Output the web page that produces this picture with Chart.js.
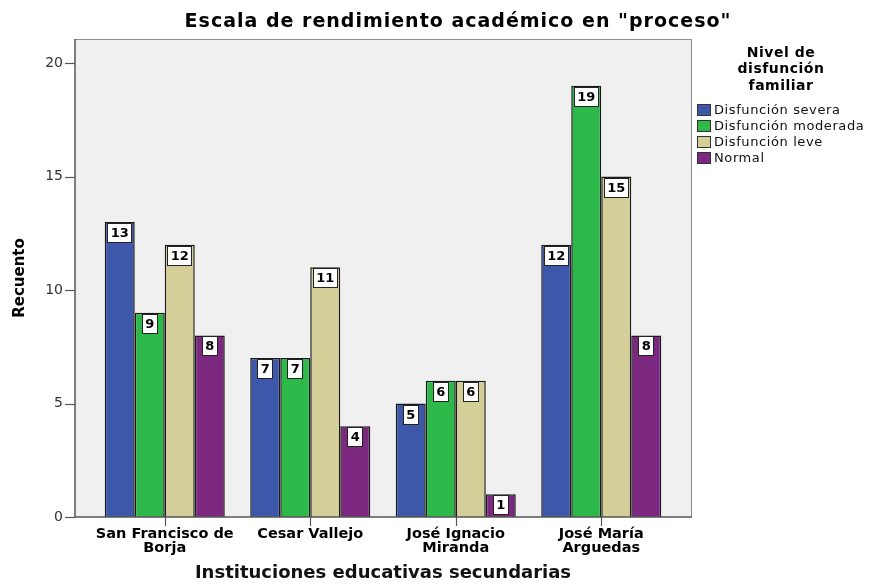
<!DOCTYPE html>
<html>
<head>
<meta charset="utf-8">
<script src="https://cdn.jsdelivr.net/npm/chart.js@4"></script>
<style>
  html, body { margin: 0; background: #fff; }
  canvas { display: block; }
</style>
</head>
<body>
<canvas id="chart" width="869" height="584"></canvas>
<script>
// datos
const categories = [['San Francisco de', 'Borja'], 'Cesar Vallejo', ['José Ignacio', 'Miranda'], ['José María', 'Arguedas']];
const severa   = [13, 7, 5, 12];
const moderada = [9, 7, 6, 19];
const leve     = [12, 11, 6, 15];
const normal   = [8, 4, 1, 8];
const seriesNames  = ['Disfunción severa', 'Disfunción moderada', 'Disfunción leve', 'Normal'];
const seriesColors = ['#3d57ab', '#2db84a', '#d4cf98', '#7c2880'];
const yTicks = [0, 5, 10, 15, 20];

const FONT = '"DejaVu Sans", sans-serif';
const FRAME_PAD = 17;

// fondo gris + marco del área de gráfico
const framePlugin = {
    id: 'frame',
    beforeDraw(chart) {
        const { ctx, chartArea: a } = chart;
        ctx.save();
        ctx.fillStyle = '#fff';
        ctx.fillRect(0, 0, chart.width, chart.height);
        ctx.fillStyle = '#f0f0f0';
        ctx.fillRect(a.left - FRAME_PAD, a.top, a.right - a.left + 2 * FRAME_PAD, a.bottom - a.top);
        ctx.restore();
    },
    afterDatasetsDraw(chart) {
        const { ctx, chartArea: a, scales } = chart;
        const L = a.left - FRAME_PAD, R = a.right + FRAME_PAD;
        ctx.save();
        ctx.lineWidth = 1;
        ctx.strokeStyle = '#8a8a8a';
        ctx.beginPath();
        ctx.moveTo(L, a.top + 0.5); ctx.lineTo(R + 0.5, a.top + 0.5); ctx.lineTo(R + 0.5, a.bottom);
        ctx.stroke();
        ctx.strokeStyle = '#555';
        ctx.lineWidth = 1.5;
        ctx.beginPath();
        ctx.moveTo(L, a.top); ctx.lineTo(L, a.bottom); ctx.lineTo(R + 1, a.bottom);
        ctx.stroke();
        // marcas del eje y
        ctx.lineWidth = 1.2;
        yTicks.forEach(v => {
            const y = Math.round(scales.y.getPixelForValue(v)) + 0.5;
            ctx.beginPath(); ctx.moveTo(L - 10, y); ctx.lineTo(L, y); ctx.stroke();
        });
        // marcas del eje x
        categories.forEach((c, i) => {
            const x = Math.round(scales.x.getPixelForValue(i)) + 0.5;
            ctx.beginPath(); ctx.moveTo(x, a.bottom); ctx.lineTo(x, a.bottom + 9); ctx.stroke();
        });

        // etiquetas de valor
        ctx.font = 'bold 13px ' + FONT;
        ctx.textAlign = 'center';
        ctx.textBaseline = 'middle';
        chart.data.datasets.forEach((ds, i) => {
            chart.getDatasetMeta(i).data.forEach((bar, j) => {
                const txt = String(ds.data[j]);
                const w = Math.round(ctx.measureText(txt).width) + 7, h = 20;
                const x = Math.round(bar.x - w / 2), y = Math.round(bar.y) + 1;
                ctx.fillStyle = '#fff';
                ctx.fillRect(x, y, w, h);
                ctx.strokeStyle = '#222';
                ctx.lineWidth = 1;
                ctx.strokeRect(x + 0.5, y + 0.5, w - 1, h - 1);
                ctx.fillStyle = '#000';
                ctx.fillText(txt, bar.x, y + h / 2 + 1);
            });
        });
        ctx.restore();
    },
    afterDraw(chart) {
        const ctx = chart.ctx;
        ctx.save();
        // título
        ctx.fillStyle = '#000';
        ctx.textAlign = 'center';
        ctx.textBaseline = 'middle';
        ctx.font = 'bold 19px ' + FONT;
        ctx.letterSpacing = '1px';
        ctx.fillText('Escala de rendimiento académico en "proceso"', 458, 22);

        // leyenda
        ctx.font = 'bold 14px ' + FONT;
        ctx.letterSpacing = '0.5px';
        ['Nivel de', 'disfunción', 'familiar'].forEach((t, i) => ctx.fillText(t, 781, 53 + i * 16.5));
        ctx.textAlign = 'left';
        ctx.font = '13px ' + FONT;
        ctx.letterSpacing = '0.6px';
        seriesNames.forEach((name, i) => {
            const y = 110 + i * 16;
            ctx.fillStyle = seriesColors[i];
            ctx.fillRect(697, y - 6, 14, 12);
            ctx.strokeStyle = '#333';
            ctx.lineWidth = 1;
            ctx.strokeRect(697.5, y - 5.5, 13, 11);
            ctx.fillStyle = '#111';
            ctx.fillText(name, 714, y + 1);
        });
        ctx.restore();
    }
};

const seriesData = [severa, moderada, leve, normal];

new Chart(document.getElementById('chart'), {
    type: 'bar',
    data: {
        labels: categories,
        datasets: seriesData.map((d, i) => ({
            label: seriesNames[i],
            data: d,
            backgroundColor: seriesColors[i],
            borderColor: '#1a1a1a',
            borderWidth: 1.5,
            categoryPercentage: 0.825,
            barPercentage: 1
        }))
    },
    options: {
        responsive: false,
        animation: false,
        layout: { padding: { top: 39, right: 195, left: 0, bottom: 0 } },
        plugins: { legend: { display: false }, tooltip: { enabled: false } },
        scales: {
            x: {
                grid: { display: false },
                border: { display: false },
                ticks: {
                    color: '#000',
                    font: { family: FONT, size: 14.5, weight: 'bold', lineHeight: 0.92 },
                    maxRotation: 0, autoSkip: false, padding: 3
                },
                title: {
                    display: true,
                    text: 'Instituciones educativas secundarias',
                    color: '#111',
                    font: { family: FONT, size: 18, weight: 'bold' },
                    padding: { top: 0, bottom: 0 }
                },
                afterFit(scale) { scale.height = 67; }
            },
            y: {
                min: 0,
                max: 21.06,
                grid: { display: false },
                border: { display: false },
                afterBuildTicks(scale) { scale.ticks = yTicks.map(v => ({ value: v })); },
                ticks: {
                    color: '#333',
                    font: { family: FONT, size: 14 },
                    padding: 21
                },
                title: {
                    display: true,
                    text: 'Recuento',
                    color: '#000',
                    font: { family: FONT, size: 15, weight: 'bold' },
                    padding: { top: 11, bottom: 0 }
                },
                afterFit(scale) { scale.width = 92; }
            }
        }
    },
    plugins: [framePlugin]
});
</script>
</body>
</html>
